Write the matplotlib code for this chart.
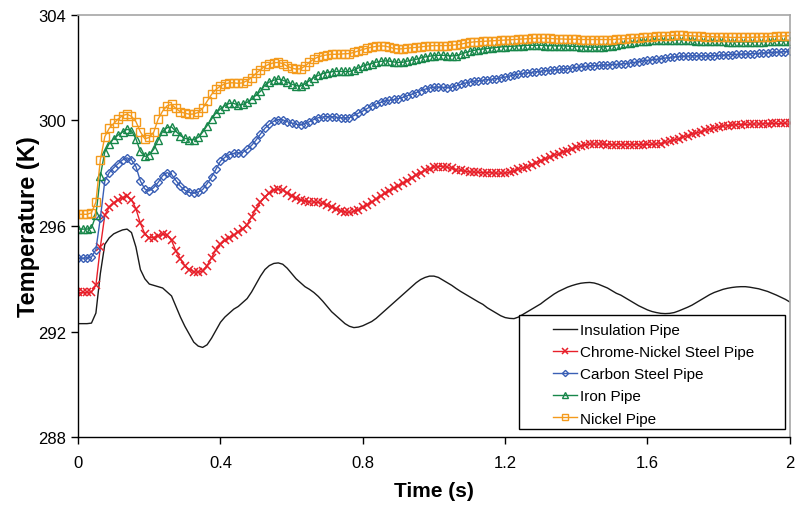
import numpy as np
import matplotlib.pyplot as plt
from matplotlib.patches import Rectangle

plt.rcParams['font.family'] = ['Liberation Sans', 'DejaVu Sans']

# time axis, every 0.0125 s from 0 to 2 s
time = np.linspace(0, 2, 161)

insulation = [
    292.3, 292.3, 292.3, 292.32, 292.7, 294.2, 295.3, 295.55,
    295.7, 295.78, 295.85, 295.88, 295.75, 295.2, 294.35, 294.0,
    293.8, 293.75, 293.7, 293.65, 293.5, 293.35, 292.95, 292.55,
    292.2, 291.9, 291.6, 291.45, 291.4, 291.5, 291.75, 292.05,
    292.35, 292.55, 292.7, 292.85, 292.95, 293.1, 293.25, 293.5,
    293.8, 294.1, 294.35, 294.5, 294.58, 294.6, 294.55, 294.4,
    294.2, 294.0, 293.85, 293.7, 293.6, 293.48, 293.33, 293.15,
    292.95, 292.75, 292.6, 292.45, 292.3, 292.2, 292.15, 292.17,
    292.22, 292.3, 292.38, 292.5, 292.65, 292.8, 292.95, 293.1,
    293.25, 293.4, 293.55, 293.7, 293.85, 293.97, 294.05, 294.1,
    294.1, 294.05, 293.95, 293.85, 293.75, 293.63, 293.52, 293.42,
    293.32, 293.22, 293.12, 293.03, 292.9, 292.8, 292.7, 292.6,
    292.53, 292.5, 292.49, 292.55, 292.65, 292.75, 292.85, 292.95,
    293.05, 293.18, 293.3, 293.42, 293.52, 293.6, 293.68, 293.74,
    293.79, 293.83, 293.85, 293.86, 293.84, 293.79, 293.72, 293.65,
    293.55, 293.45, 293.38, 293.28, 293.18, 293.08, 292.98, 292.9,
    292.82, 292.76, 292.72, 292.69, 292.68, 292.69, 292.72, 292.78,
    292.85, 292.92, 293.0, 293.1, 293.2, 293.3, 293.4, 293.48,
    293.54, 293.6, 293.64, 293.67, 293.69, 293.7, 293.7, 293.68,
    293.65, 293.62, 293.57, 293.52, 293.45, 293.38, 293.3, 293.22,
    293.12]

chrome_nickel = [
    293.48, 293.48, 293.48, 293.5, 293.75, 295.2, 296.4, 296.72,
    296.88, 296.98, 297.07, 297.14, 297.0, 296.65, 296.1, 295.7,
    295.55, 295.56, 295.62, 295.68, 295.65, 295.45, 295.05, 294.75,
    294.5, 294.35, 294.27, 294.24, 294.3, 294.5, 294.8, 295.1,
    295.3, 295.45, 295.56, 295.65, 295.78, 295.9, 296.05, 296.35,
    296.65, 296.9, 297.1, 297.25, 297.35, 297.39, 297.35, 297.25,
    297.15, 297.05, 296.98, 296.94, 296.92, 296.9, 296.89, 296.85,
    296.78, 296.72, 296.65, 296.58, 296.53, 296.51, 296.55, 296.62,
    296.7, 296.8, 296.9, 297.02, 297.13, 297.23, 297.33, 297.43,
    297.52, 297.62, 297.72, 297.83, 297.93, 298.02, 298.1, 298.17,
    298.22, 298.25, 298.25, 298.22, 298.18, 298.13, 298.1, 298.07,
    298.05, 298.04, 298.03, 298.02, 298.02, 298.01, 298.0, 298.0,
    298.0, 298.03, 298.08, 298.14, 298.2, 298.25, 298.32, 298.4,
    298.47, 298.54, 298.6, 298.67, 298.73, 298.79, 298.85, 298.92,
    298.98, 299.03, 299.07, 299.1, 299.1, 299.1, 299.1, 299.08,
    299.08, 299.08, 299.08, 299.08, 299.08, 299.08, 299.08, 299.08,
    299.09, 299.09, 299.1, 299.12, 299.16, 299.2, 299.25, 299.3,
    299.36, 299.42, 299.47, 299.52, 299.57, 299.62, 299.67, 299.71,
    299.75, 299.78, 299.8, 299.82, 299.83, 299.84, 299.85, 299.85,
    299.86, 299.86, 299.87, 299.87, 299.88, 299.88, 299.88, 299.89,
    299.9]

carbon_steel = [
    294.78, 294.78, 294.78, 294.82, 295.1, 296.3, 297.7, 298.02,
    298.2, 298.36, 298.5, 298.58, 298.5, 298.25, 297.7, 297.4,
    297.33, 297.45, 297.65, 297.9, 298.02, 297.95, 297.72, 297.5,
    297.35, 297.27, 297.24, 297.28, 297.38, 297.6, 297.85, 298.15,
    298.45, 298.6, 298.7, 298.75, 298.77, 298.78, 298.9, 299.05,
    299.25, 299.48, 299.7, 299.85, 299.97, 300.03, 300.02, 299.95,
    299.9, 299.85, 299.83, 299.87, 299.95, 300.03, 300.1, 300.13,
    300.14, 300.14, 300.12, 300.1, 300.08, 300.1, 300.18, 300.27,
    300.35, 300.45, 300.54, 300.62, 300.68, 300.73, 300.76, 300.79,
    300.82, 300.87, 300.93, 300.99, 301.05, 301.12, 301.18, 301.23,
    301.25, 301.26, 301.25, 301.24, 301.25, 301.3, 301.36, 301.41,
    301.45, 301.48, 301.5, 301.52, 301.54, 301.56, 301.58, 301.61,
    301.64, 301.68, 301.72, 301.75, 301.78, 301.8, 301.82, 301.84,
    301.86, 301.88, 301.9, 301.91, 301.93, 301.94, 301.96, 301.98,
    302.0, 302.02, 302.04, 302.06, 302.07, 302.08, 302.09, 302.1,
    302.11, 302.12, 302.13, 302.15, 302.17, 302.19, 302.22, 302.25,
    302.27, 302.29, 302.31, 302.33, 302.36, 302.38, 302.4, 302.42,
    302.43, 302.43, 302.44, 302.44, 302.44, 302.44, 302.44, 302.45,
    302.46, 302.47, 302.48, 302.49, 302.5, 302.5, 302.51, 302.52,
    302.53, 302.54, 302.55, 302.56, 302.57, 302.58, 302.59, 302.6,
    302.62]

iron = [
    295.88, 295.88, 295.88, 295.92, 296.4, 297.9, 298.8, 299.12,
    299.3, 299.44, 299.56, 299.66, 299.6, 299.3, 298.82, 298.63,
    298.7, 298.9, 299.25, 299.58, 299.72, 299.75, 299.58, 299.42,
    299.32, 299.27, 299.27, 299.35, 299.55, 299.8, 300.05, 300.28,
    300.43, 300.56, 300.64, 300.64, 300.58, 300.6, 300.68, 300.8,
    300.95, 301.1, 301.33, 301.45, 301.52, 301.56, 301.52, 301.45,
    301.37, 301.31, 301.3, 301.38, 301.5, 301.62, 301.7, 301.77,
    301.81, 301.84, 301.85, 301.85, 301.85, 301.85, 301.9, 301.98,
    302.05, 302.1, 302.15, 302.2, 302.23, 302.25, 302.24, 302.21,
    302.19, 302.2, 302.24, 302.28, 302.31, 302.36, 302.4, 302.43,
    302.45, 302.46, 302.46, 302.45, 302.44, 302.45, 302.5, 302.56,
    302.61, 302.65, 302.68, 302.7, 302.72, 302.74, 302.76, 302.78,
    302.79, 302.8, 302.81, 302.82, 302.83, 302.84, 302.84, 302.84,
    302.84, 302.83, 302.83, 302.82, 302.82, 302.82, 302.81, 302.8,
    302.8, 302.79, 302.78, 302.77, 302.77, 302.77, 302.78, 302.8,
    302.82, 302.85, 302.88, 302.91, 302.94, 302.97, 302.99, 303.01,
    303.02, 303.03, 303.04, 303.04, 303.05, 303.05, 303.05, 303.05,
    303.05, 303.04, 303.03, 303.02, 303.02, 303.01, 303.01, 303.0,
    303.0, 302.99, 302.98, 302.98, 302.97, 302.97, 302.97, 302.97,
    302.97, 302.98, 302.98, 302.99, 302.99, 303.0, 303.0, 303.01,
    303.01]

nickel = [
    296.44, 296.44, 296.44, 296.5, 296.9, 298.5, 299.38, 299.7,
    299.88, 300.05, 300.18, 300.23, 300.15, 299.95, 299.56, 299.3,
    299.35, 299.55, 300.05, 300.35, 300.55, 300.6, 300.45, 300.32,
    300.27, 300.23, 300.24, 300.3, 300.45, 300.72, 300.98, 301.17,
    301.3, 301.38, 301.42, 301.42, 301.4, 301.42, 301.5, 301.62,
    301.78, 301.92, 302.05, 302.13, 302.18, 302.19, 302.15, 302.05,
    301.98, 301.94, 301.95, 302.05, 302.2, 302.32, 302.4, 302.45,
    302.48, 302.5, 302.5, 302.51, 302.52, 302.53, 302.57, 302.63,
    302.68, 302.73, 302.77, 302.8, 302.82, 302.81, 302.77, 302.72,
    302.7, 302.71, 302.73, 302.75, 302.76, 302.78, 302.8, 302.82,
    302.83, 302.83, 302.83, 302.83, 302.84, 302.86, 302.88, 302.92,
    302.95, 302.97, 302.98, 302.99, 303.0, 303.01, 303.02, 303.03,
    303.04, 303.05, 303.06, 303.07, 303.08, 303.09, 303.1, 303.11,
    303.11, 303.11, 303.1, 303.09, 303.08, 303.08, 303.07, 303.07,
    303.07, 303.06, 303.06, 303.06, 303.06, 303.06, 303.06, 303.06,
    303.06, 303.07, 303.08, 303.09, 303.1, 303.12, 303.13, 303.14,
    303.16, 303.17, 303.18, 303.19, 303.2, 303.21, 303.22, 303.22,
    303.22, 303.21, 303.2, 303.19, 303.18, 303.17, 303.17, 303.16,
    303.16, 303.15, 303.15, 303.14, 303.14, 303.14, 303.14, 303.14,
    303.15, 303.15, 303.16, 303.17, 303.17, 303.18, 303.19, 303.2,
    303.2]

fig = plt.figure(figsize=(7.97, 5.06), dpi=100)
ax = fig.add_axes([0.098, 0.134, 0.893, 0.835])

ax.plot(time, insulation, '-', color='#1a1a1a', lw=1.0, label='Insulation Pipe')
ax.plot(time, chrome_nickel, '-x', color='#e8202a', lw=1.0, ms=5.5, mew=1.1,
        label='Chrome-Nickel Steel Pipe')
ax.plot(time, carbon_steel, '-D', color='#3a5fb5', lw=1.0, ms=4.2, mew=1.0,
        mfc='none', label='Carbon Steel Pipe')
ax.plot(time, iron, '-^', color='#17874a', lw=1.0, ms=5.8, mew=1.0,
        mfc='none', label='Iron Pipe')
ax.plot(time, nickel, '-s', color='#f49a1c', lw=1.0, ms=5.6, mew=1.0,
        mfc='none', label='Nickel Pipe')

ax.set_xlim(0, 2)
ax.set_ylim(288, 304)
ax.set_xticks([0, 0.4, 0.8, 1.2, 1.6, 2])
ax.set_xticklabels(['0', '0.4', '0.8', '1.2', '1.6', '2'])
ax.set_yticks([288, 292, 296, 300, 304])
ax.tick_params(direction='out', length=5, width=1, labelsize=12, colors='black')
ax.tick_params(axis='x', pad=8)

for side in ['top', 'right']:
    ax.spines[side].set_color('#a6a6a6')
    ax.spines[side].set_linewidth(1.2)
for side in ['left', 'bottom']:
    ax.spines[side].set_color('black')
    ax.spines[side].set_linewidth(1.0)

ax.set_xlabel('Time (s)', fontsize=15, fontweight='bold', labelpad=8)
ax.set_ylabel('Temperature (K)', fontsize=17, fontweight='bold', labelpad=-1)

# legend box drawn by hand, wider than the entries like the original
box = Rectangle((0.619, 0.019), 0.374, 0.270, transform=ax.transAxes,
                facecolor='white', edgecolor='black', lw=1.0, zorder=4.5)
ax.add_patch(box)
leg = ax.legend(loc='upper left', bbox_to_anchor=(0.667, 0.27), borderaxespad=0,
                fontsize=11, frameon=False, handlelength=1.6,
                handletextpad=0.15, labelspacing=0.53, borderpad=0,
                markerscale=0.75)
leg.set_zorder(5)

plt.savefig('out.png', dpi=100)
